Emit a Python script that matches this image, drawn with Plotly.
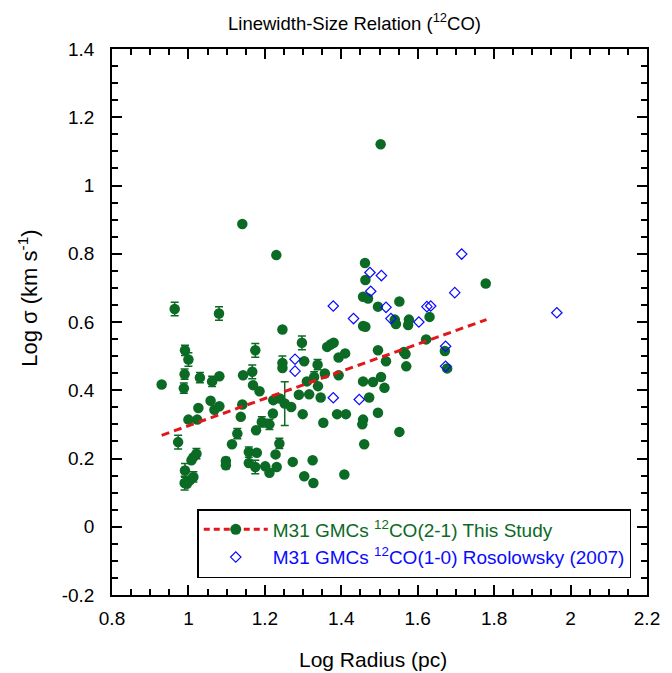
import plotly.graph_objects as go

# ---- data ----
green_x = [1.503, 1.141, 1.230, 1.462, 1.463, 0.964, 1.080, 1.457, 1.470, 1.496,
           1.246, 1.457, 1.463, 1.552, 1.540, 1.543, 1.577, 1.575, 1.631, 1.622,
           1.778, 1.297, 1.363, 1.372, 1.380, 1.393, 1.410, 1.496, 1.517, 0.991,
           1.000, 1.175, 1.303, 1.338, 1.246, 1.246, 1.357, 1.393, 1.167, 1.143,
           1.081, 1.030, 1.062, 0.990, 0.930, 0.988, 1.169, 1.186, 1.310, 1.329,
           1.339, 1.457, 1.483, 1.504, 1.513, 1.473, 1.289, 1.316, 1.346, 1.058,
           1.081, 1.068, 1.026, 1.141, 1.222, 1.239, 1.252, 1.269, 1.221, 1.299,
           1.137, 1.000, 1.023, 1.353, 1.389, 1.412, 1.496, 1.457, 1.455, 1.192,
           1.212, 1.177, 1.128, 1.114, 1.238, 0.973, 1.460, 1.158, 1.179, 1.228,
           1.021, 1.013, 1.008, 1.098, 1.098, 1.158, 1.273, 1.325, 1.175, 1.201,
           1.212, 1.231, 1.303, 1.327, 1.408, 0.991, 1.013, 1.004, 0.990, 0.996,
           1.564, 1.568, 1.570, 1.671, 1.677, 1.552]
green_y = [1.121, 0.887, 0.796, 0.773, 0.723, 0.638, 0.625, 0.674, 0.669, 0.645,
           0.578, 0.588, 0.586, 0.660, 0.607, 0.594, 0.607, 0.591, 0.615, 0.549,
           0.713, 0.539, 0.527, 0.534, 0.539, 0.496, 0.508, 0.517, 0.485, 0.517,
           0.490, 0.517, 0.485, 0.475, 0.480, 0.465, 0.449, 0.444, 0.454, 0.444,
           0.441, 0.437, 0.426, 0.447, 0.417, 0.406, 0.415, 0.397, 0.426, 0.439,
           0.412, 0.426, 0.424, 0.439, 0.407, 0.379, 0.387, 0.388, 0.379, 0.369,
           0.353, 0.343, 0.348, 0.358, 0.371, 0.376, 0.361, 0.351, 0.332, 0.330,
           0.322, 0.314, 0.314, 0.305, 0.330, 0.330, 0.334, 0.314, 0.300, 0.307,
           0.300, 0.283, 0.273, 0.242, 0.244, 0.248, 0.242, 0.219, 0.217, 0.212,
           0.214, 0.204, 0.195, 0.193, 0.180, 0.187, 0.190, 0.195, 0.175, 0.177,
           0.158, 0.175, 0.148, 0.128, 0.153, 0.165, 0.146, 0.136, 0.128, 0.126,
           0.512, 0.506, 0.470, 0.515, 0.464, 0.278]
green_err = [0, 0, 0, 0, 0, 0.02, 0.02, 0, 0, 0,
             0, 0, 0, 0, 0, 0, 0, 0, 0, 0,
             0, 0.02, 0, 0, 0, 0, 0, 0, 0, 0.015,
             0.02, 0.02, 0, 0.015, 0.02, 0, 0, 0, 0.02, 0,
             0, 0.015, 0.015, 0.015, 0, 0.015, 0, 0, 0, 0.015,
             0, 0, 0, 0, 0, 0, 0, 0, 0, 0,
             0, 0, 0, 0, 0, 0, 0.064, 0, 0, 0,
             0, 0, 0, 0, 0, 0, 0, 0, 0, 0.015,
             0.015, 0, 0.015, 0, 0.015, 0.02, 0, 0.015, 0, 0,
             0.015, 0, 0, 0.01, 0.01, 0, 0, 0, 0.02, 0,
             0, 0, 0, 0, 0, 0.02, 0.015, 0, 0.02, 0,
             0, 0, 0, 0, 0, 0]

blue_x = [1.475, 1.505, 1.477, 1.379, 1.432, 1.517, 1.530, 1.715, 1.697, 1.964,
          1.603, 1.624, 1.634, 1.279, 1.279, 1.379, 1.447, 1.673, 1.673]
blue_y = [0.745, 0.736, 0.690, 0.647, 0.610, 0.643, 0.610, 0.799, 0.686, 0.627,
          0.600, 0.645, 0.647, 0.491, 0.456, 0.378, 0.373, 0.529, 0.470]

fit_x = [0.93, 1.78]
fit_y = [0.268, 0.607]

x_ticks = [0.8, 1.0, 1.2, 1.4, 1.6, 1.8, 2.0, 2.2]
x_labels = ["0.8", "1", "1.2", "1.4", "1.6", "1.8", "2", "2.2"]
y_ticks = [-0.2, 0.0, 0.2, 0.4, 0.6, 0.8, 1.0, 1.2, 1.4]
y_labels = ["-0.2", "0", "0.2", "0.4", "0.6", "0.8", "1", "1.2", "1.4"]

GREEN = "#0b6a24"
BLUE = "#0a0aff"
RED = "#e3161b"
FONT = "Liberation Sans"

# page body has an 8px default margin: the plot area in page pixels is x 112-658, y 49-595
OFF = 8
PL, PR, PT, PB = 112 - OFF, 658 - OFF, 49 - OFF, 595 - OFF
W, H = 664, 665
PW, PH = PR - PL, PB - PT


def px(xp):
    return (xp - OFF - PL) / PW


def py(yp):
    return (PB - (yp - OFF)) / PH


fig = go.Figure()

fig.add_trace(go.Scatter(
    x=green_x, y=green_y, mode="markers", showlegend=False,
    marker=dict(color=GREEN, size=10.5, line=dict(width=0)),
    error_y=dict(type="data", array=green_err, visible=True, color=GREEN,
                 thickness=1.5, width=4),
))
fig.add_trace(go.Scatter(
    x=blue_x, y=blue_y, mode="markers", showlegend=True, legendrank=2,
    name="<span style='color:%s'>M31 GMCs <sup>12</sup>CO(1-0) Rosolowsky (2007)</span>" % BLUE,
    marker=dict(symbol="diamond-open", color=BLUE, size=8, line=dict(width=1.2, color=BLUE)),
))
fig.add_trace(go.Scatter(
    x=fit_x, y=fit_y, mode="lines", showlegend=False,
    line=dict(color=RED, width=3, dash="8px,5px"),
))
# legend proxy combining fit line and green markers
fig.add_trace(go.Scatter(
    x=[None], y=[None], mode="lines+markers", legendrank=1,
    name="<span style='color:%s'>M31 GMCs <sup>12</sup>CO(2-1) This Study</span>" % GREEN,
    line=dict(color=RED, width=3, dash="6px,4px"),
    marker=dict(color=GREEN, size=11),
))

axis_common = dict(
    showline=True, linewidth=1.5, linecolor="black", mirror="allticks",
    ticks="inside", ticklen=10, tickwidth=1.5, tickcolor="black",
    showgrid=False, zeroline=False,
    tickfont=dict(family=FONT, size=19, color="black"),
)

fig.update_xaxes(range=[0.8, 2.2], tickvals=x_ticks, ticktext=x_labels,
                 minor=dict(dtick=0.05, tick0=0.8, ticks="inside", ticklen=6,
                            tickwidth=1.5, tickcolor="black"),
                 ticklabelstandoff=5, **axis_common)
fig.update_yaxes(range=[-0.2, 1.4], tickvals=y_ticks, ticktext=y_labels,
                 minor=dict(dtick=0.05, tick0=-0.2, ticks="inside", ticklen=6,
                            tickwidth=1.5, tickcolor="black"),
                 ticklabelstandoff=12, **axis_common)

fig.update_layout(
    width=W, height=H,
    margin=dict(l=PL, r=W - PR, t=PT, b=H - PB),
    paper_bgcolor="white", plot_bgcolor="white",
    font=dict(family=FONT, color="black"),
    showlegend=True,
    legend=dict(
        x=px(199), y=py(578), xanchor="left", yanchor="bottom",
        bgcolor="white", bordercolor="black", borderwidth=1.5,
        font=dict(family=FONT, size=19),
        tracegroupgap=0, itemwidth=64,
    ),
    annotations=[
        dict(text="Linewidth-Size Relation (<sup>12</sup>CO)", xref="paper", yref="paper",
             x=px(359), y=py(8), xanchor="center", yanchor="top",
             showarrow=False, font=dict(family=FONT, size=18.5, color="black")),
        dict(text="Log Radius (pc)", xref="paper", yref="paper",
             x=px(378), y=py(659), xanchor="center", yanchor="middle",
             showarrow=False, font=dict(family=FONT, size=21, color="black")),
        dict(text="Log σ (km s<sup>-1</sup>)", xref="paper", yref="paper", textangle=-90,
             x=px(26), y=py(298), xanchor="center", yanchor="middle",
             showarrow=False, font=dict(family=FONT, size=22, color="black")),
    ],
)

fig.write_html("out.html")
